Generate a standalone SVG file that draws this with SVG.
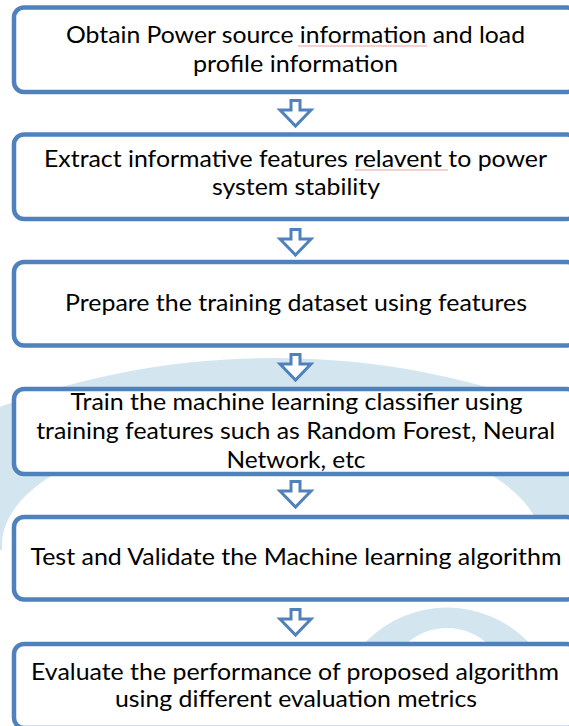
<svg xmlns="http://www.w3.org/2000/svg" width="569" height="726" viewBox="0 0 569 726">
  <defs>
    <style>
      .box { fill: #ffffff; stroke: #4f81bd; stroke-width: 4.5; }
      .lbl { font-family: "Lato", "Liberation Sans", sans-serif; font-size: 23px; fill: #000000; text-anchor: middle; }
      .arrow { fill: #ffffff; stroke: #4f81bd; stroke-width: 3; stroke-linejoin: miter; }
      .wm { fill: #d3e6f0; fill-rule: evenodd; }
      .spell { fill: none; stroke: #e9a3a3; stroke-width: 1; }
    </style>
    <!-- hollow block arrow pointing down, top of shaft at y=0 -->
    <path id="downArrow" class="arrow" d="M291 1.5 H300 V11 H311 L295.5 27 L280 11 H291 Z"/>
    <clipPath id="bandClip">
      <rect x="0" y="0" width="569" height="550"/>
    </clipPath>
  </defs>

  <rect width="569" height="726" fill="#ffffff"/>

  <!-- pale background emblem -->
  <g id="background-emblem">
    <path class="wm" clip-path="url(#bandClip)" d="M-519 1151 a793 793 0 1 0 1586 0 a793 793 0 1 0 -1586 0 Z M2 545 a270 120 0 1 0 540 0 a270 120 0 1 0 -540 0 Z"/>
    <path class="wm" d="M333.5 721 a113.5 113.5 0 1 0 227 0 a113.5 113.5 0 1 0 -227 0 Z M386 689 a61 61 0 1 0 122 0 a61 61 0 1 0 -122 0 Z"/>
  </g>

  <!-- connectors -->
  <g id="connectors">
    <use href="#downArrow" y="99"/>
    <use href="#downArrow" y="228"/>
    <use href="#downArrow" y="353"/>
    <use href="#downArrow" y="480"/>
    <use href="#downArrow" y="608"/>
  </g>

  <g id="step1">
    <rect class="box" x="14" y="7.5" width="563" height="84.5" rx="10"/>
    <text class="lbl" x="295.5" y="43" textLength="459" lengthAdjust="spacingAndGlyphs">Obtain Power source information and load</text>
    <text class="lbl" x="295.5" y="71.5" textLength="205" lengthAdjust="spacingAndGlyphs">profile information</text>
    <path class="spell" d="M298 46 h129"/>
  </g>

  <g id="step2">
    <rect class="box" x="14" y="134.5" width="563" height="84.5" rx="10"/>
    <text class="lbl" x="295.5" y="167" textLength="503" lengthAdjust="spacingAndGlyphs">Extract informative features relavent to power</text>
    <text class="lbl" x="296" y="195" textLength="168" lengthAdjust="spacingAndGlyphs">system stability</text>
    <path class="spell" d="M355 170 h93"/>
  </g>

  <g id="step3">
    <rect class="box" x="14" y="262" width="563" height="83.5" rx="10"/>
    <text class="lbl" x="296" y="310.5" textLength="462" lengthAdjust="spacingAndGlyphs">Prepare the training dataset using features</text>
  </g>

  <g id="step4">
    <rect class="box" x="14" y="389" width="563" height="85" rx="10"/>
    <text class="lbl" x="296.5" y="410" textLength="452" lengthAdjust="spacingAndGlyphs">Train the machine learning classifier using</text>
    <text class="lbl" x="295.7" y="438.5" textLength="519" lengthAdjust="spacingAndGlyphs">training features such as Random Forest, Neural</text>
    <text class="lbl" x="296" y="467.5" textLength="139" lengthAdjust="spacingAndGlyphs">Network, etc</text>
  </g>

  <g id="step5">
    <rect class="box" x="14" y="517" width="563" height="82.5" rx="10"/>
    <text class="lbl" x="296" y="565" textLength="531" lengthAdjust="spacingAndGlyphs">Test and Validate the Machine learning algorithm</text>
  </g>

  <g id="step6">
    <rect class="box" x="14" y="644" width="563" height="84" rx="10"/>
    <text class="lbl" x="295" y="680" textLength="528" lengthAdjust="spacingAndGlyphs">Evaluate the performance of proposed algorithm</text>
    <text class="lbl" x="296" y="707" textLength="362" lengthAdjust="spacingAndGlyphs">using different evaluation metrics</text>
  </g>
</svg>
